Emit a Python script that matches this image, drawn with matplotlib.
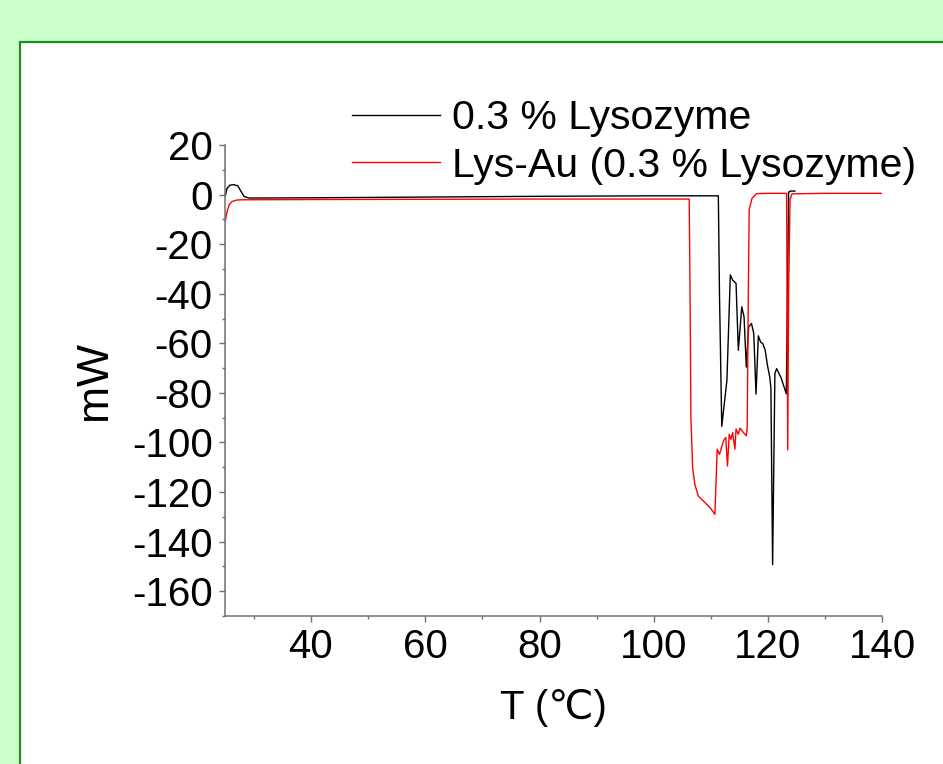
import matplotlib
matplotlib.use("Agg")
import matplotlib.pyplot as plt
from matplotlib.patches import Rectangle
from matplotlib.ticker import MultipleLocator

plt.rcParams['font.family'] = ['Liberation Sans', 'DejaVu Sans']
plt.rcParams['axes.unicode_minus'] = False

# DSC trace: 0.3 % lysozyme
temp_lys = [25.0, 25.3, 25.8, 26.5, 27.2, 27.7, 28.3, 29.2, 40, 60, 80, 100,
            111.3, 111.5, 111.9, 112.8, 113.4, 113.8, 114.4, 114.8, 115.4, 115.8,
            116.2, 116.6, 117.1, 117.5, 117.9, 118.3, 118.7, 119.1, 119.5, 119.9,
            120.3, 120.5, 120.8, 121.2, 121.5, 122.3, 123.2, 123.45, 123.6, 123.9, 124.7]
heat_lys = [-0.5, 2.5, 3.8, 4.0, 3.5, 1.5, -0.8, -1.4, -1.3, -1.0, -0.7, -0.5,
            -0.5, -40, -93.5, -75, -32.4, -34.5, -35.8, -62.8, -45.3, -49.3,
            -69.6, -53.4, -52, -56, -80.5, -57, -59.5, -60.2, -62.8, -68.9,
            -73.6, -78, -149.3, -72.2, -70.2, -74, -80.4, -30, 1.0, 1.4, 1.4]

# DSC trace: Lys-Au (0.3 % lysozyme)
temp_au = [25.0, 25.3, 25.7, 26.2, 27.0, 28.0, 40, 60, 80, 100,
           106.2, 106.35, 106.5, 106.8, 107.2, 107.8, 109.3, 109.9, 110.7, 111.1,
           111.5, 112.2, 112.6, 112.9, 113.2, 113.5, 113.8, 114.2, 114.4, 114.8,
           115.1, 115.7, 116.2, 116.35, 116.55, 116.7, 117.2, 118.0, 120, 123.25,
           123.45, 123.6, 123.85, 124.2, 130, 140]
heat_au = [-10.5, -7, -4, -2.8, -2.2, -2.1, -2.0, -1.9, -1.8, -1.8,
           -1.8, -40, -90, -110, -117, -121.6, -125, -126.4, -129, -102.7,
           -104.8, -99.3, -98, -109.5, -96.7, -98.7, -96, -102.7, -94.6, -96.7,
           -94.2, -96, -97.3, -94, -40, -6, -1.5, 0.4, 0.5, 0.5,
           -103, -40, -2, 0.3, 0.5, 0.5]

series_labels = ['0.3 % Lysozyme', 'Lys-Au (0.3 % Lysozyme)']
x_label = 'T (\u2103)'
y_label = 'mW'

W, H, DPI = 943, 764, 100
fig = plt.figure(figsize=(W / DPI, H / DPI), dpi=DPI)
fig.patch.set_facecolor('#ccffcc')

# white panel with green frame, kept behind the plot
fig.patches.append(Rectangle((20 / W, -0.05), 1.1, 1 - 42 / H + 0.05,
                             transform=fig.transFigure, facecolor='white',
                             edgecolor='#1f8f1f', linewidth=1.6, zorder=-10))

ax = fig.add_axes([225.3 / W, 1 - 616 / H, (882.3 - 225.3) / W, (616 - 145) / H])
ax.set_facecolor('none')
ax.set_zorder(5)

ax.plot(temp_lys, heat_lys, color='black', lw=1.0, label=series_labels[0])
ax.plot(temp_au, heat_au, color='#ff0000', lw=1.0, label=series_labels[1])

ax.set_xlim(25, 140)
ax.set_ylim(-170, 20)
ax.xaxis.set_major_locator(MultipleLocator(20))
ax.xaxis.set_minor_locator(MultipleLocator(10))
ax.yaxis.set_major_locator(MultipleLocator(20))
ax.yaxis.set_minor_locator(MultipleLocator(10))
ax.set_xticks([40, 60, 80, 100, 120, 140])

for s in ['top', 'right']:
    ax.spines[s].set_visible(False)
for s in ['left', 'bottom']:
    ax.spines[s].set_color('#707070')
    ax.spines[s].set_linewidth(1.1)

ax.tick_params(which='major', direction='out', length=4, width=1.0,
               color='#707070', labelsize=29, pad=5)
ax.tick_params(which='minor', direction='out', length=2.5, width=1.0,
               color='#707070')

ax.set_xlabel(x_label, fontsize=29, labelpad=16)
ax.set_ylabel(y_label, fontsize=32, labelpad=12)

ax.legend(loc='upper left', bbox_to_anchor=(352 / W, 1 - 99 / H),
          bbox_transform=fig.transFigure, frameon=False, fontsize=29.5,
          handlelength=2.15, handletextpad=0.3, borderpad=0,
          borderaxespad=0, labelspacing=0.24)

fig.savefig('out.png', dpi=DPI, facecolor=fig.get_facecolor())
